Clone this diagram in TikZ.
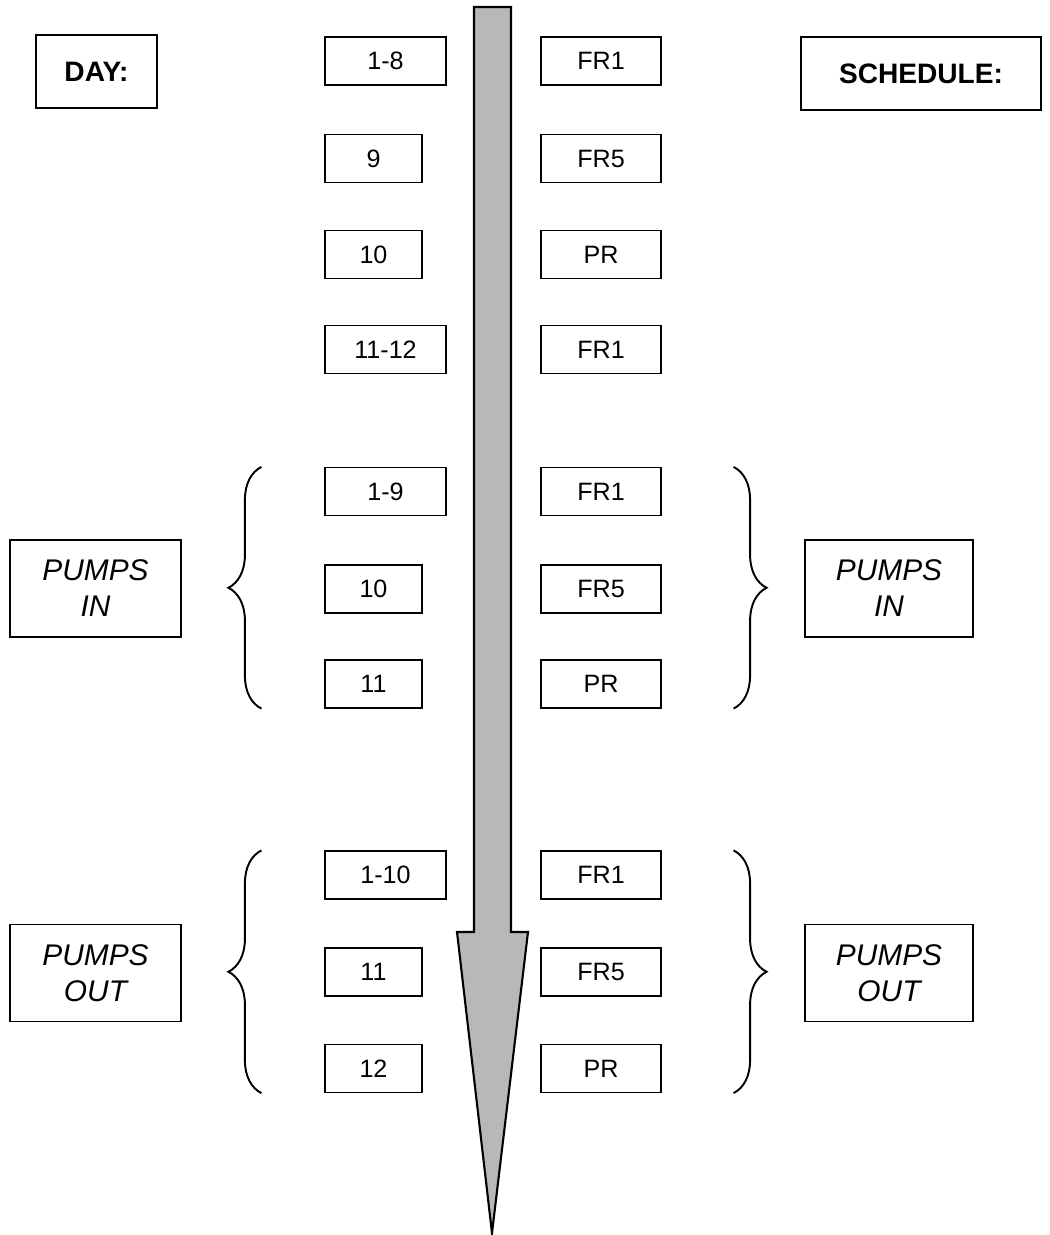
\documentclass[tikz,border=0pt]{standalone}
\usepackage{fontspec}
\setmainfont{Liberation Sans}
\usetikzlibrary{arrows,decorations.pathreplacing}

\begin{document}
\begin{tikzpicture}[
			x=0.02cm, y=-0.02cm,
			box style/.style={
				draw,
				line width=0.7pt,
				align=center,
				minimum height=0.96cm,
				inner sep=0pt,
				font=\fontsize{14.3}{17}\selectfont
			},
			wide box/.style={box style, minimum width=2.42cm},
			narrow box/.style={box style, minimum width=1.94cm},
			sched box/.style={box style, minimum width=2.4cm},
			head style/.style={
				draw,
				line width=0.7pt,
				minimum height=1.46cm,
				inner sep=0pt,
				font=\fontsize{16}{19}\selectfont\bfseries
			},
			pump style/.style={
				draw,
				line width=0.7pt,
				align=center,
				minimum height=1.94cm,
				inner sep=0pt,
				font=\fontsize{17}{20.5}\selectfont\itshape
			},
			brace style/.style={
				decorate,
				decoration={brace, amplitude=0.66cm},
				line width=1.1pt
			}
			]
			
			\useasboundingbox (0,0) rectangle (1049,1235);
			
			% time arrow
			\draw[line width=1.2pt, fill=black!28]
				(474,7) -- (511,7) -- (511,932) -- (528,932) -- (492,1233)
				-- (457,932) -- (474,932) -- cycle;
			
			\node[head style, minimum width=2.42cm] (day) at (96.5,71.5) {DAY:};
			\node[head style, minimum width=4.8cm] (sched) at (921,73.5) {SCHEDULE:};
			
			% days
			\node[wide box] (d1) at (385.5,61) {1-8};
			\node[narrow box] (d2) at (373.5,158.5) {9};
			\node[narrow box] (d3) at (373.5,254.5) {10};
			\node[wide box] (d4) at (385.5,349.5) {11-12};
			\node[wide box] (d5) at (385.5,491.5) {1-9};
			\node[narrow box] (d6) at (373.5,589) {10};
			\node[narrow box] (d7) at (373.5,684) {11};
			\node[wide box] (d8) at (385.5,875) {1-10};
			\node[narrow box] (d9) at (373.5,972) {11};
			\node[narrow box] (d10) at (373.5,1068.5) {12};
			
			% schedules
			\node[sched box] (s1) at (601,61) {FR1};
			\node[sched box] (s2) at (601,158.5) {FR5};
			\node[sched box] (s3) at (601,254.5) {PR};
			\node[sched box] (s4) at (601,349.5) {FR1};
			\node[sched box] (s5) at (601,491.5) {FR1};
			\node[sched box] (s6) at (601,589) {FR5};
			\node[sched box] (s7) at (601,684) {PR};
			\node[sched box] (s8) at (601,875) {FR1};
			\node[sched box] (s9) at (601,972) {FR5};
			\node[sched box] (s10) at (601,1068.5) {PR};
			
			\node[pump style, minimum width=3.42cm] (inL) at (95.5,588.5) {PUMPS\\IN};
			\node[pump style, minimum width=3.36cm] (inR) at (889,588.5) {PUMPS\\IN};
			\node[pump style, minimum width=3.42cm] (outL) at (95.5,973) {PUMPS\\OUT};
			\node[pump style, minimum width=3.36cm] (outR) at (889,973) {PUMPS\\OUT};
			
			\draw[brace style] ([xshift=-1.26cm]d7.south west) -- ([xshift=-1.26cm]d5.north west);
			\draw[brace style] ([xshift=1.44cm]s5.north east) -- ([xshift=1.44cm]s7.south east);
			\draw[brace style] ([xshift=-1.26cm]d10.south west) -- ([xshift=-1.26cm]d8.north west);
			\draw[brace style] ([xshift=1.44cm]s8.north east) -- ([xshift=1.44cm]s10.south east);
			
		\end{tikzpicture}
\end{document}
